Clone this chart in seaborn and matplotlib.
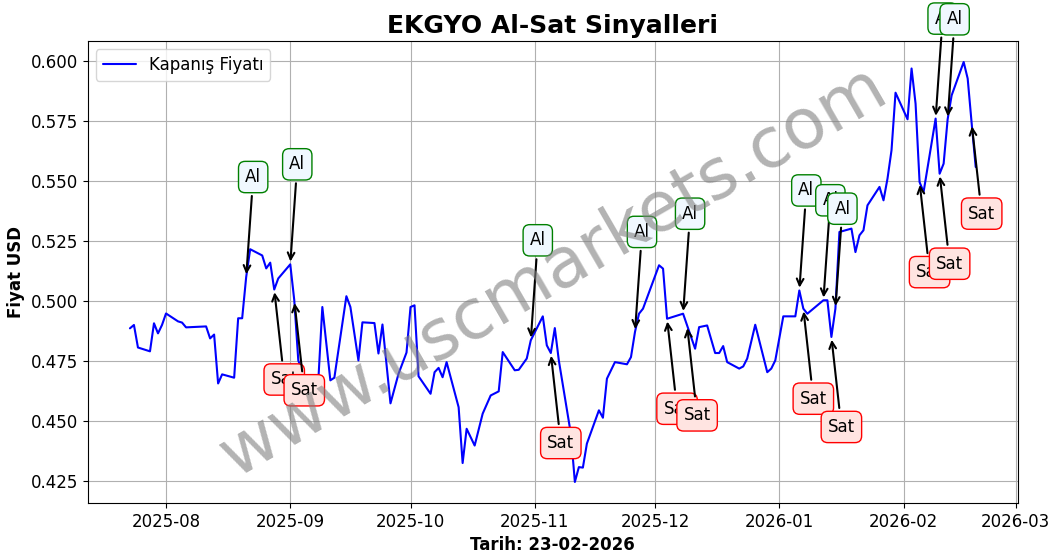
import pandas as pd
import numpy as np
import matplotlib.pyplot as plt
import matplotlib.dates as mdates
import seaborn as sns

sns.set_style("white")
plt.rcParams['font.family'] = ['DejaVu Sans']
plt.rcParams.update({'text.color': 'black', 'axes.labelcolor': 'black',
                     'xtick.color': 'black', 'ytick.color': 'black'})

start = pd.Timestamp("2025-08-01")

# day offsets from 2025-08-01 and closing prices
days = [-9, -8, -7, -4, -3, -2, -1, 0, 3, 4, 5, 10, 11, 12, 13, 14, 17, 18, 19, 20,
        21, 24, 25, 26, 27, 28, 31, 32, 33, 35, 38, 39, 41, 42, 45, 46, 48, 49, 52, 53,
        54, 56, 58, 60, 61, 62, 63, 66, 67, 68, 69, 70, 73, 74, 75, 77, 79, 81, 83, 84,
        87, 88, 90, 91, 94, 95, 96, 97, 98, 101, 102, 103, 104, 105, 108, 109, 110, 112,
        115, 116, 117, 118, 119, 123, 124, 125, 129, 132, 133, 135, 137, 138, 139, 140,
        143, 144, 145, 147, 150, 151, 152, 154, 157, 158, 159, 160, 164, 165, 166, 167,
        168, 171, 172, 173, 174, 175, 178, 179, 180, 181, 182, 185, 186, 187, 188, 189,
        192, 193, 194, 195, 196, 199, 200, 201, 202]
prices = [0.4886, 0.490, 0.4806, 0.479, 0.4907, 0.4865, 0.490, 0.4948, 0.4915, 0.491,
          0.489, 0.4894, 0.4844, 0.486, 0.4656, 0.4694, 0.468, 0.4928, 0.4928, 0.510,
          0.5216, 0.519, 0.5136, 0.516, 0.5048, 0.5094, 0.5153, 0.5003, 0.4752, 0.466,
          0.4669, 0.4975, 0.4669, 0.468, 0.502, 0.4975, 0.4752, 0.4911, 0.4908, 0.4781,
          0.4902, 0.4573, 0.4696, 0.4785, 0.4975, 0.4982, 0.4686, 0.4613, 0.4703, 0.4721,
          0.4682, 0.4745, 0.4557, 0.4324, 0.4467, 0.4397, 0.453, 0.4606, 0.4623, 0.4787,
          0.4711, 0.4713, 0.476, 0.4836, 0.4936, 0.4815, 0.4783, 0.4887, 0.4752, 0.4446,
          0.4245, 0.4307, 0.4305, 0.4405, 0.4544, 0.4513, 0.4676, 0.4745, 0.4736, 0.4766,
          0.4871, 0.4947, 0.4968, 0.5149, 0.5135, 0.4926, 0.4947, 0.4801, 0.4891, 0.4898,
          0.4783, 0.4783, 0.4812, 0.4745, 0.4718, 0.4727, 0.476, 0.4901, 0.4703, 0.4718,
          0.4752, 0.4936, 0.4936, 0.5044, 0.4968, 0.4947, 0.5003, 0.5003, 0.485, 0.4968,
          0.5288, 0.5302, 0.5204, 0.5274, 0.5295, 0.5399, 0.5476, 0.542, 0.5511, 0.5629,
          0.5869, 0.5758, 0.597, 0.5823, 0.5496, 0.5455, 0.5761, 0.5531, 0.5573, 0.5758,
          0.5858, 0.5997, 0.5928, 0.574, 0.5559]

buy_days = [20, 31, 91, 117, 129, 158, 164, 167, 192, 195]
sell_days = [27, 32, 96, 125, 130, 159, 166, 188, 193, 201]

df = pd.DataFrame({"Tarih": start + pd.to_timedelta(days, unit="D"), "Fiyat": prices})
series = df.set_index("Tarih")["Fiyat"]

fig, ax = plt.subplots(figsize=(10.56, 5.58), dpi=100)
fig.subplots_adjust(left=0.083, right=0.964, top=0.9265, bottom=0.0986)
sns.lineplot(data=df, x="Tarih", y="Fiyat", color="blue", label="Kapanış Fiyatı", ax=ax)


def price_at(d):
    t = start + pd.Timedelta(days=d)
    return np.interp(mdates.date2num(t), mdates.date2num(series.index), series.values), t


for d in buy_days:
    v, t = price_at(d)
    ax.annotate("Al", xy=(t, v), xytext=(7, 100), textcoords="offset pixels",
                ha="center", va="center", fontsize=12,
                bbox=dict(boxstyle="round,pad=0.4", fc="aliceblue", ec="green"),
                arrowprops=dict(arrowstyle="->", color="black", lw=1.5))

for d in sell_days:
    v, t = price_at(d)
    ax.annotate("Sat", xy=(t, v), xytext=(10, -90), textcoords="offset pixels",
                ha="center", va="center", fontsize=12,
                bbox=dict(boxstyle="round,pad=0.4", fc="mistyrose", ec="red"),
                arrowprops=dict(arrowstyle="->", color="black", lw=1.5))

ax.text(0.5, 0.5, "www.uscmarkets.com", transform=ax.transAxes, fontsize=50,
        color="gray", alpha=0.6, rotation=30, ha="center", va="center")

ax.set_title("EKGYO Al-Sat Sinyalleri", fontsize=18, fontweight="bold")
ax.set_xlabel("Tarih: 23-02-2026", fontsize=12, fontweight="bold")
ax.set_ylabel("Fiyat USD", fontsize=12, fontweight="bold")
ax.tick_params(labelsize=12, left=True, bottom=True)
ax.xaxis.set_major_locator(mdates.MonthLocator())
ax.xaxis.set_major_formatter(mdates.DateFormatter("%Y-%m"))
ax.grid(True, color="#b0b0b0")
for s in ax.spines.values():
    s.set_color("black")
ax.legend(loc="upper left", fontsize=12)

plt.savefig("out.png", dpi=100)
